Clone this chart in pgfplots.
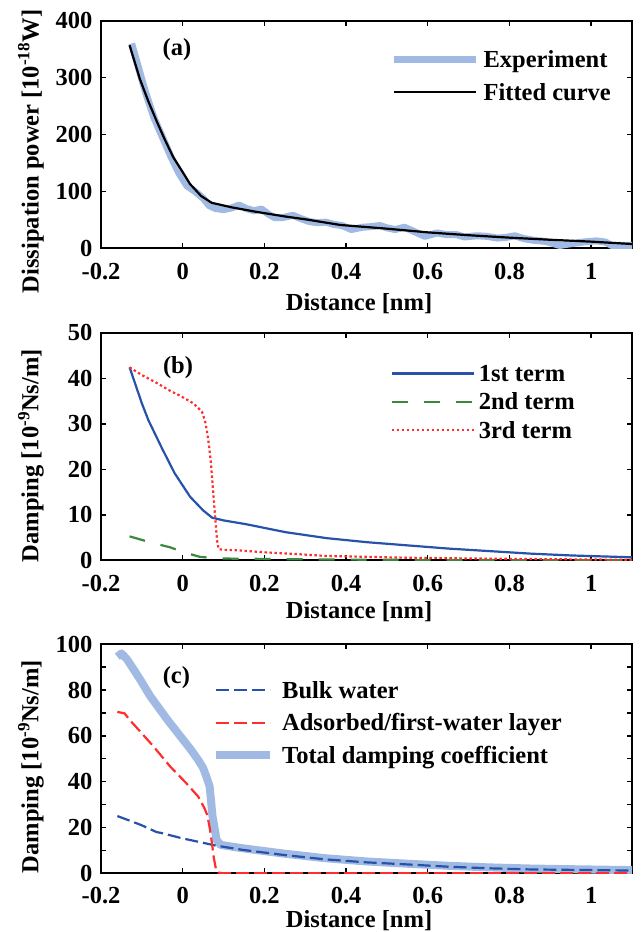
\documentclass[border=0pt]{standalone}
\usepackage{fontspec}
\setmainfont{Liberation Serif}
\usepackage{pgfplots}
\pgfplotsset{compat=1.18}
\newcommand\bigf{\fontsize{24.5}{29}\selectfont\bfseries}
\definecolor{lblue}{RGB}{160,186,228}
\definecolor{dblue}{RGB}{40,82,170}
\definecolor{dgreen}{RGB}{58,135,62}
\definecolor{lred}{RGB}{255,45,45}
\pgfplotsset{
 panel/.style={
  scale only axis, width=531pt, anchor=south west,
  xmin=-0.2, xmax=1.1,
  xtick={-0.2,0,0.2,0.4,0.6,0.8,1},
  xticklabels={-0.2,0,0.2,0.4,0.6,0.8,1},
  tick align=inside, xtick pos=both, ytick pos=both,
  xticklabel pos=lower, yticklabel pos=left,
  axis line style={line width=2pt},
  tick style={black, line width=1.4pt},
  major tick length=5pt,
  tick label style={font=\bigf},
  label style={font=\bigf},
  yticklabel style={anchor=east, inner sep=0pt, xshift=-8.5pt},
  xlabel={Distance [nm]},
  legend cell align=left,
  legend style={font=\bigf, draw=none, fill=none, inner sep=0pt, anchor=north west,
    nodes={inner sep=0pt, text height=16.2pt, text depth=0pt, anchor=west}},
 }
}
\begin{document}
\begin{tikzpicture}
\useasboundingbox (0pt,0pt) rectangle (641pt,932pt);
% ---------------- (a)
\begin{axis}[panel, at={(101pt,683.7pt)}, height=227.5pt,
  ymin=0, ymax=400, ytick={0,100,200,300,400}, yticklabels={0,100,200,300,400},
  xticklabel style={anchor=center, inner sep=0pt, yshift=-23.4pt},
  xlabel style={at={(axis description cs:0.486,-0.242)}, anchor=center},
  ylabel={Dissipation power [10\textsuperscript{-18}W]},
  ylabel style={at={(axis description cs:-0.132,0.426)}, anchor=center},
  legend style={at={(axis description cs:0.545,0.866)}, row sep=16.2pt, column sep=4pt},
  legend image code/.code={\draw[#1] (0pt,0pt) -- (82pt,0pt);},
]
\addplot[lblue, line width=7pt, line join=round] coordinates {
(-0.125,360) (-0.11,322) (-0.09,272) (-0.07,229) (-0.05,196) (-0.03,163) (-0.01,133)
(0.01,110) (0.03,100) (0.05,88) (0.065,75) (0.08,70) (0.1,68) (0.12,71) (0.138,76)
(0.155,70) (0.175,66) (0.193,69) (0.21,60) (0.225,54) (0.245,54) (0.27,58) (0.29,52)
(0.31,47) (0.33,45) (0.35,46) (0.37,42) (0.39,40) (0.413,33) (0.44,37) (0.46,38)
(0.483,40) (0.5,36) (0.52,33) (0.543,37) (0.565,30) (0.593,21) (0.623,27) (0.645,24)
(0.67,24) (0.69,20) (0.72,22) (0.745,21) (0.77,18) (0.79,19) (0.813,22) (0.835,17)
(0.86,14) (0.89,12) (0.923,5) (0.95,8) (0.98,11) (1.013,13) (1.035,11) (1.05,5)
(1.075,5) (1.1,5)};
\addlegendentry{Experiment}
\addplot[black, line width=2.2pt, line join=round] coordinates {
(-0.13,357) (-0.105,298) (-0.085,260) (-0.064,224) (-0.045,193) (-0.023,160) (0.0,134)
(0.018,113) (0.045,92) (0.071,80) (0.12,72) (0.181,64) (0.25,56) (0.3,51) (0.386,41)
(0.5,34.5) (0.6,28) (0.7,23) (0.8,18.7) (0.9,15) (1.0,11.7) (1.1,7.5)};
\addlegendentry{Fitted curve}
\node[font=\bigf] at (axis description cs:0.143,0.872) {(a)};
\end{axis}
% ---------------- (b)
\begin{axis}[panel, at={(101pt,371.5pt)}, height=227.8pt,
  ymin=0, ymax=50, ytick={0,10,20,30,40,50}, yticklabels={0,10,20,30,40,50},
  xticklabel style={anchor=center, inner sep=0pt, yshift=-22.8pt},
  xlabel style={at={(axis description cs:0.486,-0.225)}, anchor=center},
  ylabel={Damping [10\textsuperscript{-9}Ns/m]},
  ylabel style={at={(axis description cs:-0.132,0.46)}, anchor=center},
  legend style={at={(axis description cs:0.545,0.857)}, row sep=12.1pt, column sep=4pt},
  legend image code/.code={\draw[#1] (0pt,0pt) -- (82pt,0pt);},
]
\addplot[dblue, line width=2.2pt, line join=round] coordinates {
(-0.13,42.4) (-0.1,34.5) (-0.084,30.8) (-0.05,24.5) (-0.02,19.2) (0.018,14.0) (0.05,11.0)
(0.072,9.4) (0.1,8.8) (0.153,8.0) (0.253,6.2) (0.353,4.9) (0.453,4.0) (0.553,3.3)
(0.653,2.6) (0.753,2.05) (0.853,1.5) (0.953,1.1) (1.1,0.7)};
\addlegendentry{1st term}
\addplot[dgreen, line width=2.2pt, dash pattern=on 16pt off 16pt] coordinates {
(-0.13,5.3) (-0.08,4.0) (-0.031,2.9) (0.003,1.8) (0.042,0.8) (0.08,0.5) (0.123,0.4)
(0.2,0.35) (0.3,0.25) (0.5,0.15) (0.7,0.1) (0.9,0.07) (1.1,0.05)};
\addlegendentry{2nd term}
\addplot[lred, line width=2.2pt, dash pattern=on 2.4pt off 2.6pt] coordinates {
(-0.13,42.4) (-0.1,40.7) (-0.064,39.0) (-0.03,37.2) (-0.007,36.2) (0.026,34.5) (0.047,32.7)
(0.055,30.5) (0.059,28.6) (0.064,25.5) (0.069,21.5) (0.075,14.7) (0.08,9.0) (0.084,4.5)
(0.088,2.5) (0.1,2.35) (0.14,2.2) (0.2,1.8) (0.263,1.5) (0.35,1.0) (0.45,0.8) (0.55,0.6)
(0.75,0.4) (0.95,0.25) (1.1,0.15)};
\addlegendentry{3rd term}
\node[font=\bigf] at (axis description cs:0.145,0.847) {(b)};
\end{axis}
% ---------------- (c)
\begin{axis}[panel, at={(101pt,58.7pt)}, height=229pt,
  ymin=0, ymax=100, ytick={0,10,...,100}, yticklabels={0,,20,,40,,60,,80,,100},
  xticklabel style={anchor=center, inner sep=0pt, yshift=-21.8pt},
  xlabel style={at={(axis description cs:0.486,-0.206)}, anchor=center},
  ylabel={Damping [10\textsuperscript{-9}Ns/m]},
  ylabel style={at={(axis description cs:-0.132,0.466)}, anchor=center},
  legend style={at={(axis description cs:0.209,0.836)}, row sep=16.3pt, column sep=8pt},
  legend image code/.code={\draw[#1] (0pt,0pt) -- (54pt,0pt);},
]
\addplot[lblue, line width=8pt, line join=round, forget plot] coordinates {
(-0.16,94.6) (-0.15,96) (-0.137,93.6) (-0.12,89) (-0.102,84) (-0.08,77.5) (-0.052,70.6)
(-0.035,66.5) (-0.002,59) (0.02,54) (0.038,49.5) (0.05,46) (0.058,42.2) (0.066,37.9)
(0.073,25) (0.083,14.6) (0.093,12.4) (0.148,10.9) (0.248,8.6) (0.348,6.6) (0.448,5.2)
(0.548,4.2) (0.648,3.3) (0.748,2.6) (0.848,2.1) (0.948,1.8) (1.1,1.4)};
\addplot[dblue, line width=2.2pt, dash pattern=on 13pt off 5pt] coordinates {
(-0.16,25.0) (-0.13,23.0) (-0.102,21.1) (-0.064,18.0) (-0.052,17.6) (-0.002,15.3)
(0.048,13.4) (0.078,12.2) (0.148,10.2) (0.248,8.0) (0.348,6.1) (0.448,4.8) (0.548,3.9)
(0.648,2.9) (0.748,2.2) (0.848,1.7) (0.948,1.5) (1.1,1.2)};
\addlegendentry{Bulk water}
\addplot[lred, line width=2.2pt, dash pattern=on 13pt off 5pt] coordinates {
(-0.16,70.5) (-0.142,69.8) (-0.13,67.0) (-0.112,63.5) (-0.072,55.5) (-0.03,46.5)
(0.008,39.5) (0.038,33.5) (0.053,28.5) (0.06,25.5) (0.066,20) (0.071,14) (0.076,7)
(0.081,2.2) (0.087,0.3) (0.1,0) (0.4,0) (0.7,0) (1.1,0)};
\addlegendentry{Adsorbed/first-water layer}
\addlegendimage{lblue, line width=8pt}
\addlegendentry{Total damping coefficient}
\node[font=\bigf] at (axis description cs:0.142,0.855) {(c)};
\end{axis}
\end{tikzpicture}
\end{document}
